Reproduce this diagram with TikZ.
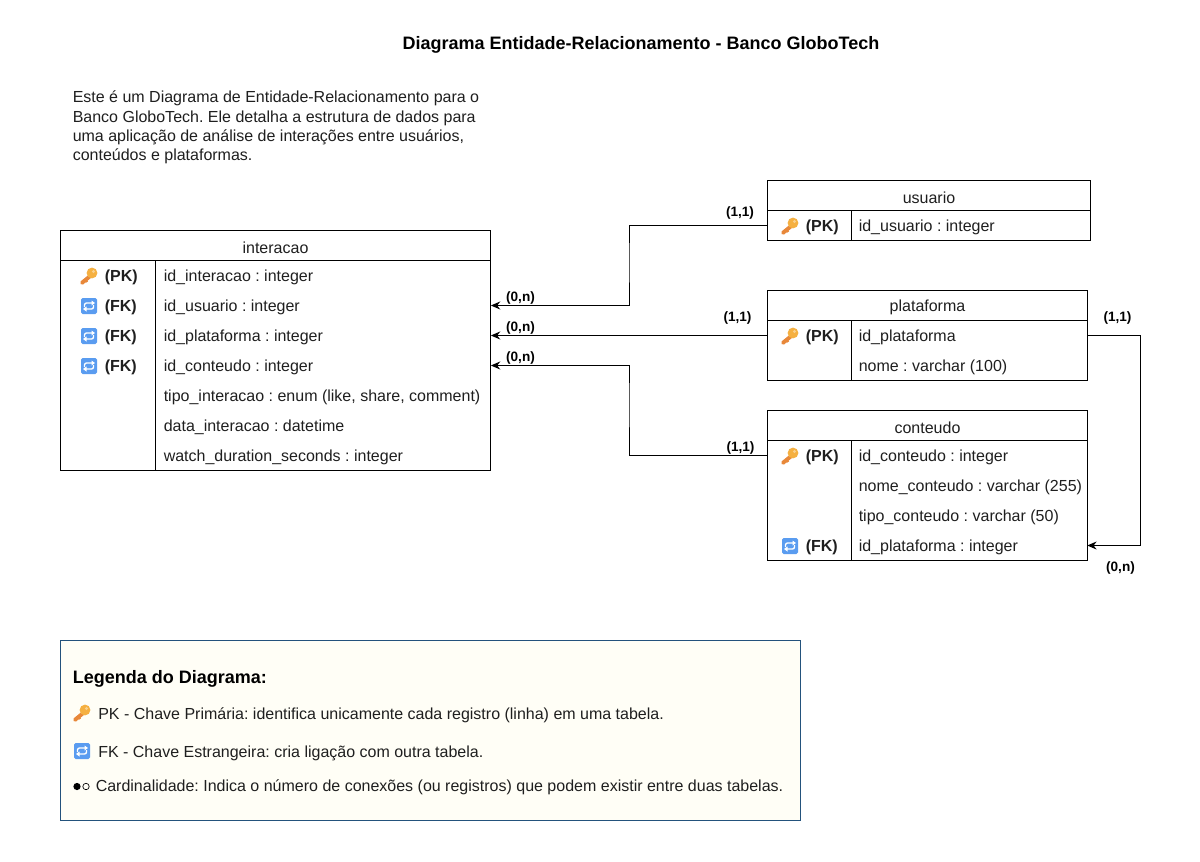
\documentclass[tikz,border=0pt]{standalone}
\usepackage{fontspec}
\setmainfont{Liberation Sans}
\usetikzlibrary{arrows.meta,calc}
\frenchspacing
\definecolor{keyA}{HTML}{F5B041}
\definecolor{keyB}{HTML}{E8883A}
\definecolor{fkA}{HTML}{5A9CF0}
\definecolor{legFill}{HTML}{FFFEF6}
\definecolor{legLine}{HTML}{23527C}
\tikzset{
  x=0.75pt,y=-0.75pt,
  every node/.style={font=\fontsize{12}{14}\selectfont,text=black!88},
  tablebox/.style={draw=black,line width=0.75pt,fill=white,inner sep=0pt},
  rowbox/.style={inner sep=0pt,minimum height=22.5pt},
  tablehead/.style={anchor=center,inner sep=0pt},
  fieldtxt/.style={anchor=west,inner sep=0pt},
  tagtxt/.style={anchor=west,inner sep=0pt,font=\fontsize{12}{14}\selectfont\bfseries},
  card/.style={inner sep=0pt,font=\fontsize{10.2}{12}\selectfont\bfseries,text=black},
  link/.style={draw=black,line width=0.75pt,-{Stealth[length=7pt,width=6pt]}},
  plain/.style={draw=black,line width=0.75pt},
  legtxt/.style={anchor=west,inner sep=0pt},
  keyicon/.pic={
    \fill[keyB] (-8.5,8) -- (-6,8.5) -- (2.5,1.5) -- (0,-1.5) -- (-8.5,5.5) -- cycle;
    \fill[keyB] (-3.5,2.5) -- (-1,5.5) -- (-3.5,7) -- cycle;
    \fill[keyA] (3,-3) circle[radius=5.4];
    \fill[keyA!60!white] (4.5,-4.5) circle[radius=1.6];
  },
  fkicon/.pic={
    \fill[fkA,rounded corners=1.2pt] (-8,-8) rectangle (8,8);
    \draw[white,line width=1pt,rounded corners=1.5pt] (-4.5,1) -- (-4.5,-3) -- (4,-3);
    \draw[white,line width=1pt,rounded corners=1.5pt] (4.5,-1) -- (4.5,3) -- (-4,3);
    \fill[white] (2.5,-5.5) -- (6,-3) -- (2.5,-0.5) -- cycle;
    \fill[white] (-2.5,0.5) -- (-6,3) -- (-2.5,5.5) -- cycle;
  },
}
\begin{document}
\begin{tikzpicture}
\useasboundingbox (0,0) rectangle (1200,861);
\fill[white] (0,0) rectangle (1200,861);

% title and description
\node[inner sep=0pt,font=\fontsize{13.5}{16}\selectfont\bfseries,text=black] (title) at (641,45) {Diagrama Entidade-Relacionamento - Banco GloboTech};
\node[inner sep=0pt,anchor=north west,align=left,font=\fontsize{12}{14.6}\selectfont] (desc) at (72.5,90.5) {Este é um Diagrama de Entidade-Relacionamento para o\\Banco GloboTech. Ele detalha a estrutura de dados para\\uma aplicação de análise de interações entre usuários,\\conteúdos e plataformas.};

% interacao
\node[tablebox,minimum width=322.7pt,minimum height=180pt] (itab) at (275.5,350) {};
\draw[plain] (60.5,260) -- (490.5,260) (155.5,260) -- (155.5,470);
\node[tablehead] (ihead) at (275.5,247.5) {interacao};
\foreach \n/\yy/\t in {1/276/id\_interacao : integer,2/306/id\_usuario : integer,3/336/id\_plataforma : integer,4/366/id\_conteudo : integer,5/396/{tipo\_interacao : enum (like, share, comment)},6/426/data\_interacao : datetime,7/456/watch\_duration\_seconds : integer}{
  \node[rowbox,minimum width=322.7pt] (i\n) at (275.5,\yy-0.5) {};
  \node[fieldtxt] (it\n) at (163.5,\yy+1.7) {\t};
}
\pic at (89,276) {keyicon};
\node[tagtxt] (ip) at (104.5,277.7) {(PK)};
\foreach \n/\yy in {2/306,3/336,4/366}{
  \pic at (89,\yy) {fkicon};
  \node[tagtxt] (if\n) at (104.5,\yy+1.7) {(FK)};
}

% usuario
\node[tablebox,minimum width=242.25pt,minimum height=45pt] (utab) at (928.5,210) {};
\draw[plain] (767,210.5) -- (1090,210.5) (851,210.5) -- (851,240);
\node[tablehead] (uhead) at (929,197.5) {usuario};
\node[rowbox,minimum width=242.25pt] (u1) at (928.5,225.5) {};
\pic at (790,226) {keyicon};
\node[tagtxt] (up) at (805.5,227.7) {(PK)};
\node[fieldtxt] (ut1) at (858.5,227.7) {id\_usuario : integer};

% plataforma
\node[tablebox,minimum width=240pt,minimum height=67.5pt] (ptab) at (927,335) {};
\draw[plain] (767,320.5) -- (1087,320.5) (851,320.5) -- (851,380);
\node[tablehead] (phead) at (927.5,307.5) {plataforma};
\node[rowbox,minimum width=240pt] (p1) at (927,335.5) {};
\pic at (790,336) {keyicon};
\node[tagtxt] (pp) at (805.5,337.7) {(PK)};
\node[fieldtxt] (pt1) at (858.5,337.7) {id\_plataforma};
\node[fieldtxt] (pt2) at (858.5,367.7) {nome : varchar (100)};

% conteudo
\node[tablebox,minimum width=240pt,minimum height=112.5pt] (ctab) at (927,485) {};
\draw[plain] (767,440.5) -- (1087,440.5) (851,440.5) -- (851,560);
\node[tablehead] (chead) at (927.5,427.5) {conteudo};
\node[rowbox,minimum width=240pt] (c1) at (927,455.5) {};
\node[rowbox,minimum width=240pt] (c4) at (927,545.5) {};
\pic at (790,456) {keyicon};
\node[tagtxt] (cp) at (805.5,457.7) {(PK)};
\node[fieldtxt] (ct1) at (858.5,457.7) {id\_conteudo : integer};
\node[fieldtxt] (ct2) at (858.5,487.7) {nome\_conteudo : varchar (255)};
\node[fieldtxt] (ct3) at (858.5,517.7) {tipo\_conteudo : varchar (50)};
\node[fieldtxt] (ct4) at (858.5,547.7) {id\_plataforma : integer};
\pic at (790,546) {fkicon};
\node[tagtxt] (cf) at (805.5,547.7) {(FK)};

% connectors
\coordinate (bendu) at (629,260);
\coordinate (bendc) at (629,400);
\coordinate (bendp) at (1140.5,440);
\draw[link] (u1.west) -| (bendu) |- (i2.east);
\draw[link] (p1.west) -- (i3.east);
\draw[link] (c1.west) -| (bendc) |- (i4.east);
\draw[link] (p1.east) -| (bendp) |- (c4.east);

% cardinalities
\node[card] (l1) at (740,213) {(1,1)};
\node[card] (l2) at (520.5,297.5) {(0,n)};
\node[card] (l3) at (737.5,318) {(1,1)};
\node[card] (l4) at (520.5,327.5) {(0,n)};
\node[card] (l5) at (520.5,358) {(0,n)};
\node[card] (l6) at (740.5,447.5) {(1,1)};
\node[card] (l7) at (1117.5,318) {(1,1)};
\node[card] (l8) at (1120.5,567.5) {(0,n)};

% legend
\node[draw=legLine,fill=legFill,line width=0.75pt,minimum width=555.4pt,minimum height=135.4pt,inner sep=0pt] (leg) at (430.3,730.3) {};
\node[legtxt,font=\fontsize{13.5}{16}\selectfont\bfseries,text=black] (lt) at (72.5,679) {Legenda do Diagrama:};
\pic at (82,713) {keyicon};
\node[legtxt] (lk) at (98,715.2) {PK - Chave Primária: identifica unicamente cada registro (linha) em uma tabela.};
\pic at (82,751) {fkicon};
\node[legtxt] (lf) at (98,753.2) {FK - Chave Estrangeira: cria ligação com outra tabela.};
\fill[black] (77,786.5) circle[radius=3.6];
\draw[black,line width=0.5pt] (86,786.5) circle[radius=3.2];
\node[legtxt] (lc) at (95.5,787.5) {Cardinalidade: Indica o número de conexões (ou registros) que podem existir entre duas tabelas.};
\end{tikzpicture}
\end{document}
